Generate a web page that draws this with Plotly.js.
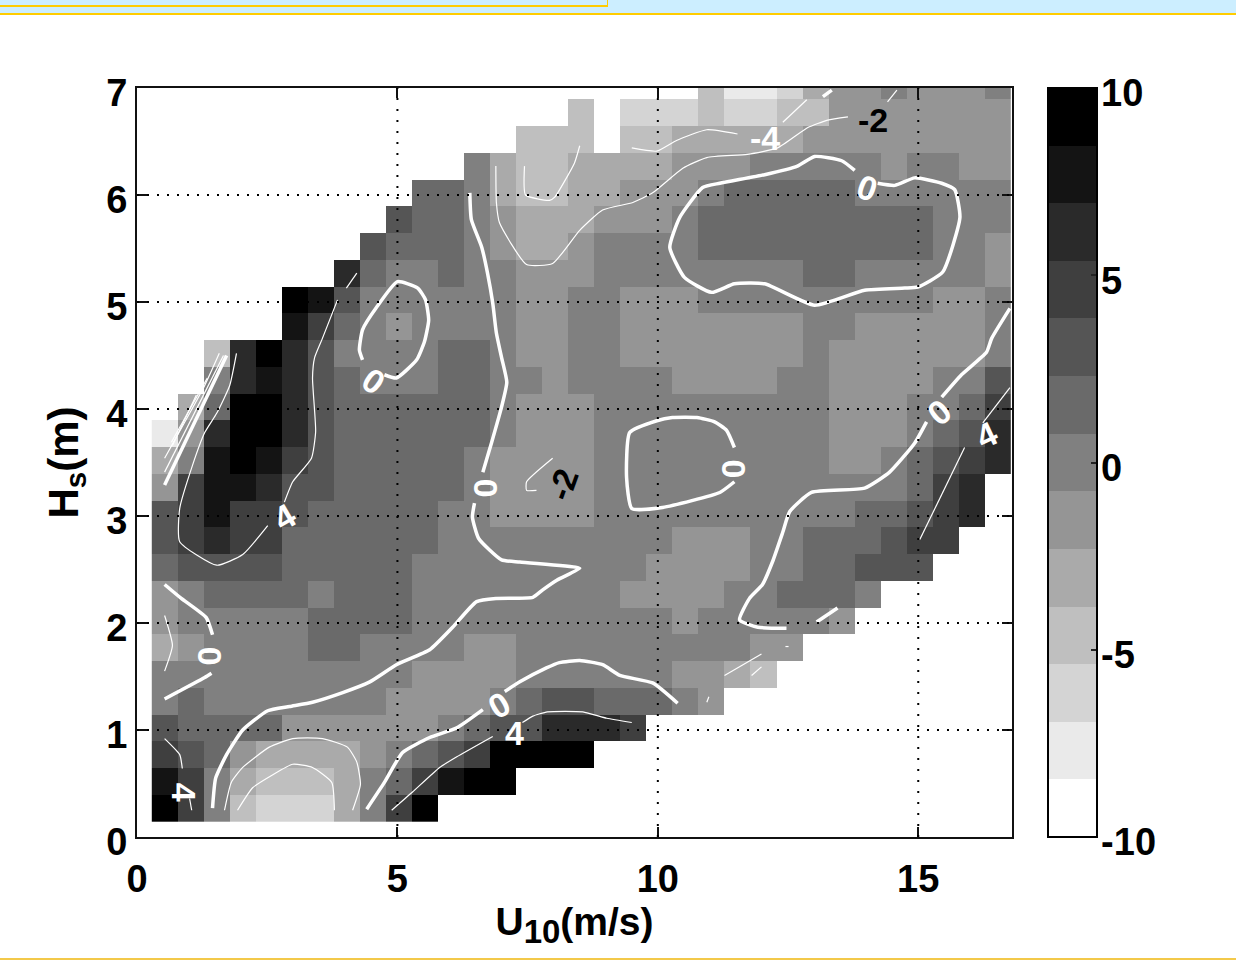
<!DOCTYPE html>
<html>
<head>
<meta charset="utf-8">
<script src="https://cdn.plot.ly/plotly-3.0.1.min.js"></script>
<style>
html,body{margin:0;padding:0;background:#fff;width:1236px;height:960px;overflow:hidden}
#band{position:absolute;left:0;top:0;width:1236px;height:13px;background:#cceeff;border-bottom:2px solid #ffcc00}
#box{position:absolute;left:0;top:0;width:607px;height:5px;border-right:1px solid #ffcc00;border-bottom:2px solid #ffcc00}
#foot{position:absolute;left:0;top:958px;width:1236px;height:2px;background:#f3c94a}
#chart{position:absolute;left:0;top:0;width:1236px;height:960px}
</style>
</head>
<body>
<div id="band"></div><div id="box"></div><div id="foot"></div>
<div id="chart"></div>
<script>
const _ = null;
// Column centres (U10, m/s) and row centres (Hs, m)
const u10Centers = [0.534,1.034,1.534,2.034,2.534,3.034,3.534,4.034,4.534,5.034,5.534,6.034,6.534,7.034,7.534,8.034,8.534,9.034,9.534,10.034,10.534,11.034,11.534,12.034,12.534,13.034,13.534,14.034,14.534,15.034,15.534,16.034,16.534];
const hsCenters = [0.268,0.518,0.768,1.018,1.268,1.518,1.768,2.018,2.268,2.518,2.768,3.018,3.268,3.518,3.768,4.018,4.268,4.518,4.768,5.018,5.268,5.518,5.768,6.018,6.268,6.518,6.768,7.018];

const row01 = [9.2,4.6,0,-4.6,-6.2,-6.2,-6.2,-3.1,0,4.6,9.2];
const row02 = [7.7,4.6,0,-3.1,-4.6,-4.6,-4.6,-3.1,0,1.5,4.6,7.7,9.2,9.2];
const row03 = [4.6,3.1,1.5,-1.5,-3.1,-3.1,-3.1,-3.1,-1.5,0,1.5,3.1,4.6,9.2,9.2,9.2,9.2];
const row04 = [3.1,1.5,1.5,1.5,1.5,-1.5,-1.5,-1.5,-1.5,-1.5,-1.5,0,1.5,3.1,3.1,6.2,6.2,6.2,4.6];
const row05 = [0,1.5,0,0,0,0,0,0,0,-1.5,-1.5,-1.5,-1.5,0,1.5,3.1,3.1,1.5,1.5,1.5,0,-1.5];
const row06 = [0,0,0,0,0,0,0,0,0,0,-1.5,-1.5,-1.5,-1.5,0,0,0,0,0,0,-1.5,-1.5,-3.1,-4.6];
const row07 = [-3.1,-1.5,0,0,0,0,1.5,1.5,0,0,0,0,-1.5,-1.5,0,0,0,0,0,0,0,0,0,-1.5,-1.5];
const row08 = [-1.5,0,0,0,0,0,1.5,1.5,1.5,1.5,0,0,0,0,0,0,0,0,0,0,-1.5,0,0,0,0,0,-1.5];
const row09 = [-1.5,0,1.5,1.5,1.5,1.5,0,1.5,1.5,1.5,0,0,0,0,0,0,0,0,-1.5,-1.5,-1.5,-1.5,0,0,1.5,1.5,1.5,0];
const row10 = [1.5,3.1,3.1,3.1,3.1,1.5,1.5,1.5,1.5,1.5,0,0,0,0,0,0,0,0,0,-1.5,-1.5,-1.5,-1.5,0,0,1.5,1.5,3.1,3.1,3.1];
const row11 = [3.1,4.6,6.2,4.6,4.6,1.5,1.5,1.5,1.5,1.5,1.5,0,0,0,0,0,0,0,0,0,-1.5,-1.5,-1.5,0,0,1.5,1.5,1.5,3.1,4.6,4.6];
const row12 = [3.1,4.6,7.7,4.6,4.6,3.1,1.5,1.5,1.5,1.5,1.5,0,0,-1.5,-1.5,-1.5,-1.5,0,0,0,0,0,0,0,0,0,0,1.5,1.5,3.1,4.6,6.2];
const row13 = [-1.5,4.6,7.7,7.7,6.2,3.1,3.1,1.5,1.5,1.5,1.5,1.5,0,-1.5,-1.5,-1.5,-1.5,0,0,0,0,0,0,0,0,0,0,0,0,1.5,4.6,6.2];
const row14 = [-3.1,0,7.7,9.2,7.7,4.6,3.1,1.5,1.5,1.5,1.5,1.5,0,-1.5,-1.5,-1.5,-1.5,0,0,0,0,0,0,0,0,0,-1.5,-1.5,0,1.5,3.1,4.6,6.2];
const row15 = [-7.7,-1.5,6.2,9.2,9.2,6.2,3.1,1.5,1.5,1.5,1.5,1.5,1.5,0,-1.5,-1.5,-1.5,0,0,0,0,0,0,0,0,0,-1.5,-1.5,-1.5,0,1.5,3.1,6.2];
const row16 = [_,-3.1,1.5,9.2,9.2,6.2,3.1,1.5,1.5,1.5,1.5,1.5,1.5,0,-1.5,-1.5,-1.5,0,0,0,0,0,0,0,0,0,-1.5,-1.5,-1.5,0,0,1.5,4.6];
const row17 = [_,_,0,6.2,7.7,6.2,3.1,1.5,0,0,0,1.5,1.5,0,0,-1.5,0,0,0,0,-1.5,-1.5,-1.5,-1.5,0,0,-1.5,-1.5,-1.5,-1.5,0,0,3.1];
const row18 = [_,_,-4.6,6.2,9.2,6.2,3.1,0,0,0,0,1.5,1.5,0,-1.5,-1.5,0,0,-1.5,-1.5,-1.5,-1.5,-1.5,-1.5,-1.5,0,-1.5,-1.5,-1.5,-1.5,-1.5,-1.5,0];
const row19 = [_,_,_,_,_,7.7,4.6,1.5,0,-1.5,0,0,0,0,-1.5,-1.5,0,0,-1.5,-1.5,-1.5,-1.5,-1.5,-1.5,-1.5,0,0,-1.5,-1.5,-1.5,-1.5,-1.5,0];
const row20 = [_,_,_,_,_,9.2,7.7,3.1,0,0,0,0,0,0,-1.5,-1.5,0,0,-1.5,-1.5,-1.5,0,0,0,0,0,0,0,0,0,-1.5,-1.5,0];
const row21 = [_,_,_,_,_,_,_,6.2,1.5,0,0,1.5,0,0,-1.5,-1.5,-1.5,0,0,0,0,0,0,0,0,1.5,1.5,0,0,0,0,0,-1.5];
const row22 = [_,_,_,_,_,_,_,_,3.1,1.5,1.5,1.5,0,-1.5,-3.1,-3.1,-1.5,0,0,0,0,1.5,1.5,1.5,1.5,1.5,1.5,1.5,1.5,1.5,0,0,-1.5];
const row23 = [_,_,_,_,_,_,_,_,_,3.1,1.5,1.5,0,-1.5,-3.1,-3.1,-3.1,-1.5,-1.5,-1.5,0,1.5,1.5,1.5,1.5,1.5,1.5,1.5,1.5,1.5,0,0,0];
const row24 = [_,_,_,_,_,_,_,_,_,_,1.5,1.5,0,-3.1,-4.6,-4.6,-3.1,-3.1,-1.5,-1.5,-1.5,0,1.5,1.5,1.5,1.5,1.5,0,0,0,0,0,0];
const row25 = [_,_,_,_,_,_,_,_,_,_,_,_,0,-3.1,-4.6,-4.6,-3.1,-3.1,-3.1,-3.1,-1.5,-1.5,-1.5,0,0,0,0,0,-1.5,0,0,-1.5,-1.5];
const row26 = [_,_,_,_,_,_,_,_,_,_,_,_,_,_,-4.6,-4.6,-4.6,_,-4.6,-4.6,-3.1,-3.1,-3.1,-3.1,-3.1,-1.5,-1.5,-1.5,-1.5,-1.5,-1.5,-1.5,-1.5];
const row27 = [_,_,_,_,_,_,_,_,_,_,_,_,_,_,_,_,-4.6,_,-6.2,-6.2,-6.2,-4.6,-6.2,-6.2,-4.6,-4.6,-1.5,-1.5,-1.5,-1.5,-1.5,-1.5,-1.5];
const row28 = [_,_,_,_,_,_,_,_,_,_,_,_,_,_,_,_,_,_,_,_,_,-4.6,-7.7,-7.7,-6.2,-3.1,-1.5,-1.5,0,-1.5,-1.5,-1.5,0];

const grayBands = ['#ffffff','#eaeaea','#d4d4d4','#bfbfbf','#aaaaaa','#959595','#808080','#6a6a6a','#555555','#3f3f3f','#2a2a2a','#141414','#000000'];
const colorbarTicks = [-10,-5,0,5,10];
const colorbarLabels = ['-10','-5','0','5','10'];

// Zero contours (thick)
const a1x=[6.39,6.42,6.62,6.73,6.83,6.90,7.00,7.10,7.00,6.81,6.64], a1y=[6.02,5.77,5.51,5.27,4.99,4.71,4.48,4.25,4.02,3.69,3.41];
const a2x=[6.48,6.44,6.56,7.00,7.35,8.44,8.50,8.06,7.79,7.60,6.90,6.52,6.06,5.62,4.98,4.47,3.95,3.37,2.93,2.51,2.03,1.72,1.51,1.45], a2y=[3.12,2.99,2.79,2.59,2.57,2.52,2.51,2.40,2.31,2.24,2.23,2.20,1.96,1.75,1.61,1.45,1.35,1.26,1.22,1.18,1.00,0.77,0.55,0.27];
const b1x=[16.76,16.41,16.31,15.83,15.45], b1y=[4.94,4.66,4.53,4.32,4.11];
const b2x=[15.16,14.93,14.45,13.97,12.95,12.53,12.40,12.20,12.01,11.76,11.57,11.92,12.47], b2y=[3.88,3.68,3.41,3.26,3.22,3.04,2.85,2.57,2.36,2.23,2.03,1.96,1.95];
const b3x=[13.05,13.45], b3y=[2.01,2.14];
const c1x=[7.06,7.35,7.86,8.11,8.50,8.94,9.27,9.90,10.38], c1y=[1.36,1.45,1.58,1.63,1.65,1.61,1.51,1.44,1.25];
const c2x=[6.64,6.14,5.62,5.10,4.75,4.41], c2y=[1.19,1.02,0.93,0.79,0.51,0.26];
const dx=[14.22,14.55,14.93,15.45,15.70,15.80,15.47,14.99,14.74,13.97,13.01,12.05,11.47,11.03,10.51,10.23,10.42,10.86,11.19,12.05,12.68,13.01,13.53,13.78], dy=[6.11,6.09,6.16,6.11,6.05,5.79,5.28,5.14,5.13,5.11,4.97,5.17,5.17,5.09,5.23,5.51,5.79,6.07,6.11,6.19,6.27,6.36,6.32,6.23];
const ex=[4.75,4.98,5.37,5.52,5.60,5.54,5.39,5.00,4.60,4.33,4.27,4.33], ey=[4.32,4.29,4.46,4.63,4.83,5.02,5.13,5.19,4.95,4.74,4.55,4.46];
const fx=[11.47,11.32,11.09,10.75,10.28,9.98,9.46,9.40,9.50,10.09,11.19,11.47], fy=[3.64,3.80,3.88,3.92,3.92,3.89,3.78,3.36,3.07,3.08,3.22,3.32];
const g1x=[0.53,0.85,1.33,1.45], g1y=[2.36,2.23,2.05,1.89];
const g2x=[1.43,1.30,0.53], g2y=[1.53,1.49,1.29];
const hx=[1.72,0.53], hy=[4.50,3.29];
const blobx=[13.17,13.34], bloby=[6.92,6.98];
const thickLines=[[a1x,a1y],[a2x,a2y],[b1x,b1y],[b2x,b2y],[b3x,b3y],[c1x,c1y],[c2x,c2y],[dx,dy],[ex,ey],[fx,fy],[g1x,g1y],[g2x,g2y],[hx,hy],[blobx,bloby]];

// Other contours (thin)
const i1x=[1.91,1.78,1.53,1.30,1.07,0.82,0.82,1.53,2.03,2.51], i1y=[4.52,4.22,3.96,3.78,3.48,3.07,2.76,2.54,2.64,2.91];
const i2x=[2.83,2.99,3.35,3.43,3.37,3.41,3.56,3.85], i2y=[3.13,3.32,3.54,3.79,4.29,4.48,4.66,5.02];
const i3x=[4.02,4.22], i3y=[5.13,5.27];
const j1x=[1.58,1.30,0.53], j1y=[4.52,4.22,3.54];
const j2x=[1.66,0.53], j2y=[4.50,3.41];
const j3x=[1.35,0.66], j3y=[4.29,3.69];
const j4x=[1.14,0.68], j4y=[4.13,3.66];
const k1x=[6.89,6.90,6.96,7.48,7.98,8.50,8.94,9.52,9.90,10.48,10.94,11.72,12.30,12.88,13.26,13.65], k1y=[6.27,5.93,5.74,5.35,5.36,5.67,5.86,5.93,6.02,6.25,6.35,6.38,6.44,6.63,6.70,6.73];
const k2x=[14.41,14.59], k2y=[6.87,6.98];
const lx=[7.44,7.46,7.92,8.02,8.40,8.50], ly=[6.27,6.00,5.95,5.98,6.30,6.46];
const m1x=[9.50,9.98,10.36,10.94,11.53], m1y=[6.44,6.41,6.51,6.61,6.57];
const m2x=[12.40,12.86], m2y=[6.68,6.89];
const n1x=[15.03,15.89], n1y=[2.78,3.64];
const n2x=[16.24,16.76], n2y=[3.87,4.20];
const o1x=[0.53,0.82,0.87], o1y=[0.92,0.77,0.64];
const o2x=[1.01,1.05], o2y=[0.36,0.25];
const px=[0.53,0.68,0.53], py=[2.07,1.79,1.55];
const qx=[1.68,1.81,2.03,2.54,2.99,3.56,4.04,4.22,4.29,4.14], qy=[0.25,0.51,0.65,0.84,0.92,0.92,0.84,0.70,0.49,0.25];
const rx=[1.93,2.22,2.60,2.99,3.37,3.74,3.79], ry=[0.25,0.46,0.58,0.68,0.65,0.51,0.25];
const s1x=[4.89,5.29,5.81,6.14,6.83], s1y=[0.25,0.42,0.65,0.75,0.94];
const s2x=[7.40,7.60,7.88,8.56,9.02,9.50], s2y=[1.07,1.13,1.17,1.17,1.11,1.07];
const t1x=[11.28,11.99], t1y=[1.51,1.71];
const t2x=[11.80,11.99], t2y=[1.51,1.59];
const t3x=[10.94,10.98], t3y=[1.26,1.31];
const t4x=[12.45,12.51], t4y=[1.78,1.78];
const ux=[7.98,7.48,7.48,7.67], uy=[3.54,3.32,3.24,3.24];
const thinLines=[[i1x,i1y],[i2x,i2y],[i3x,i3y],[j1x,j1y],[j2x,j2y],[j3x,j3y],[j4x,j4y],[k1x,k1y],[k2x,k2y],[lx,ly],[m1x,m1y],[m2x,m2y],[n1x,n1y],[n2x,n2y],[o1x,o1y],[o2x,o2y],[px,py],[qx,qy],[rx,ry],[s1x,s1y],[s2x,s2y],[t1x,t1y],[t2x,t2y],[t3x,t3y],[t4x,t4y],[ux,uy]];

// Contour labels: text, U10, Hs, rotation, colour
const labelText  = ['0','0','0','0','0','0','0','4','4','4','4','-4','-2','-2'];
const labelU     = [6.69,4.54,1.39,6.96,14.03,11.47,15.41,2.83,16.31,7.25,0.91,12.05,14.14,8.17];
const labelHs    = [3.26,4.26,1.69,1.23,6.07,3.44,3.97,2.99,3.76,0.97,0.42,6.53,6.70,3.29];
const labelAngle = [90,35,90,-30,20,90,-40,-30,-25,0,90,0,0,-70];
const labelColor = ['#fff','#fff','#fff','#fff','#fff','#fff','#fff','#fff','#fff','#fff','#fff','#fff','#000','#000'];

const gridU = [5,10,15];
const gridHs = [1,2,3,4,5,6];

const fontFamily = '"Liberation Sans", Arial, sans-serif';
const axisFont = {family:fontFamily, size:38, color:'#000', weight:700};
const xTitleFont = {family:fontFamily, size:39, color:'#000', weight:700};
const yTitleFont = {family:fontFamily, size:42, color:'#000', weight:700};

const colorscale = [];
grayBands.forEach((c,i)=>{colorscale.push([i/13,c]);colorscale.push([(i+1)/13,c]);});

const traces = [{
  type:'heatmap', x:u10Centers, y:hsCenters,
  z:[row01,row02,row03,row04,row05,row06,row07,row08,row09,row10,row11,row12,row13,row14,row15,row16,row17,row18,row19,row20,row21,row22,row23,row24,row25,row26,row27,row28],
  zmin:-10, zmax:10, colorscale:colorscale, hoverongaps:false,
  colorbar:{x:1.0411, xanchor:'left', xpad:0, ypad:0, y:0.5, yanchor:'middle', len:1, lenmode:'fraction',
    thickness:49, thicknessmode:'pixels', outlinecolor:'#000', outlinewidth:2,
    tickmode:'array', tickvals:colorbarTicks, ticktext:colorbarLabels,
    ticks:'inside', ticklen:7, tickwidth:2, tickcolor:'#222', tickfont:axisFont}
}];
thickLines.forEach(l=>traces.push({type:'scatter',mode:'lines',x:l[0],y:l[1],line:{color:'#fff',width:3.5,shape:'spline',smoothing:0.5},hoverinfo:'skip',showlegend:false}));
thinLines.forEach(l=>traces.push({type:'scatter',mode:'lines',x:l[0],y:l[1],line:{color:'#fff',width:1.2,shape:'spline',smoothing:0.5},hoverinfo:'skip',showlegend:false}));

const dots = {color:'#000',width:2};
const shapes = [];
gridU.forEach(v=>shapes.push({type:'line',xref:'x',yref:'y',x0:v,x1:v,y0:0,y1:7,line:{...dots,dash:'2px,9px'},layer:'above'}));
gridHs.forEach(v=>shapes.push({type:'line',xref:'x',yref:'y',x0:0,x1:16.8,y0:v,y1:v,line:{...dots,dash:'2px,8px'},layer:'above'}));
colorbarTicks.slice(1,4).forEach(v=>shapes.push({type:'line',xref:'paper',yref:'paper',x0:1.0411,x1:1.0491,y0:(v+10)/20,y1:(v+10)/20,line:{color:'#222',width:2},layer:'above'}));

const annotations = labelText.map((t,i)=>({x:labelU[i],y:labelHs[i],xref:'x',yref:'y',text:t,showarrow:false,textangle:labelAngle[i],
  font:{family:fontFamily,size:34,color:labelColor[i],weight:700}}));

const layout = {
  width:1236, height:960, autosize:false,
  margin:{l:137,r:224,t:88,b:123,pad:0},
  paper_bgcolor:'rgba(0,0,0,0)', plot_bgcolor:'#fff', showlegend:false,
  xaxis:{range:[0,16.8], tickmode:'array', tickvals:[0,5,10,15], ticktext:['0','5','10','15'], ticks:'inside', ticklen:10, tickwidth:2, tickcolor:'#111',
    showline:true, linecolor:'#111', linewidth:2, mirror:'ticks', showgrid:false, zeroline:false, tickfont:axisFont, ticklabelstandoff:7,
    title:{text:'U<sub><span style="font-size:33px">10</span></sub>(m/s)', font:xTitleFont, standoff:5}},
  yaxis:{range:[0,7], tickmode:'array', tickvals:[0,1,2,3,4,5,6,7], ticktext:['0','1','2','3','4','5','6','7'], ticks:'inside', ticklen:10, tickwidth:2, tickcolor:'#111',
    showline:true, linecolor:'#111', linewidth:2, mirror:'ticks', showgrid:false, zeroline:false, tickfont:axisFont, ticklabelstandoff:0, ticklabelshift:5,
    title:{text:'H<sub>s</sub>(m)', font:yTitleFont, standoff:15}},
  shapes:shapes, annotations:annotations
};
Plotly.newPlot('chart', traces, layout, {displayModeBar:false, staticPlot:true}).then(()=>{
  document.querySelectorAll('#chart .cbaxis text').forEach(t=>{
    t.setAttribute('y', (+t.getAttribute('y')||0)+5);
    t.setAttribute('x', (+t.getAttribute('x')||0)-5);
  });
});
</script>
</body>
</html>
